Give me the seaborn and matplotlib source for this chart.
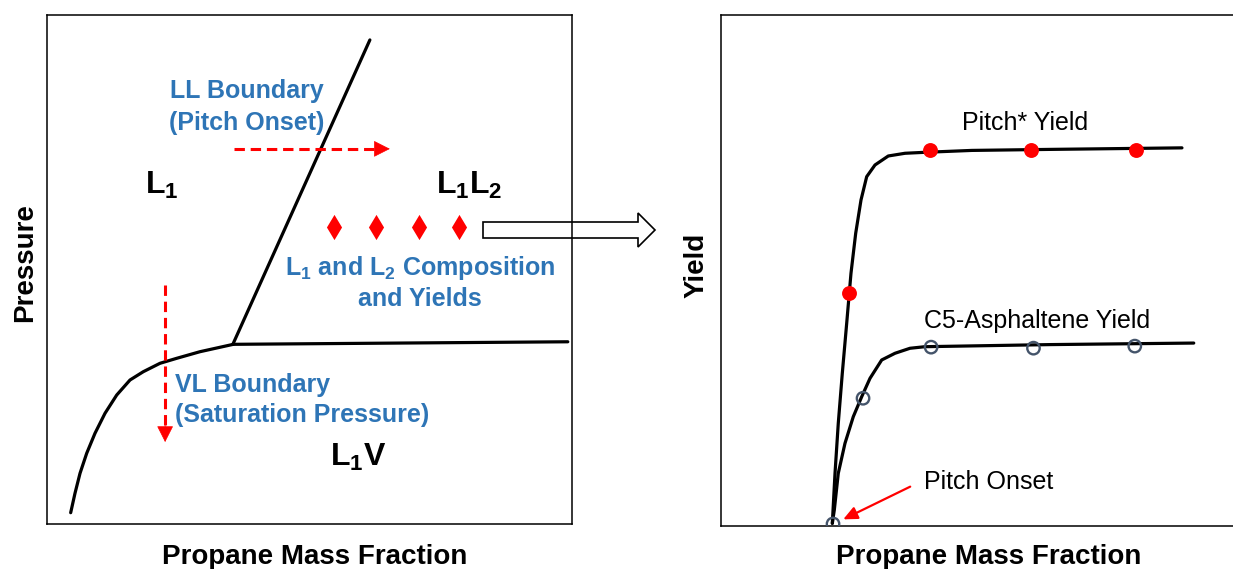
import matplotlib
matplotlib.use("Agg")
import matplotlib.pyplot as plt
from matplotlib.patches import Polygon
import seaborn as sns

# ---------------- phase diagram (left) ----------------
# coordinates in percent of the axis span
ll_x = [35.4, 61.5]
ll_y = [35.3, 95.1]
l1v_x = [35.4, 99.2]
l1v_y = [35.3, 35.8]
vl_x = [4.51, 5.33, 6.29, 7.56, 9.14, 11.05, 13.28, 15.81, 18.34, 21.52,
        24.70, 29.14, 32.95, 35.49]
vl_y = [2.22, 6.03, 9.96, 13.89, 17.82, 21.75, 25.34, 28.29, 29.92, 31.57,
        32.55, 33.85, 34.72, 35.30]
sample_x = [54.6, 62.6, 70.9, 78.5]
sample_y = [58.3, 58.3, 58.3, 58.3]
ll_path_x = [35.6, 63.5]
ll_path_y = [73.7, 73.7]
vl_path_x = [22.5, 22.5]
vl_path_y = [47.0, 18.0]

# ---------------- yield curves (right) ----------------
pitch_x = [20.77, 21.27, 21.88, 22.63, 23.45, 24.25, 25.13, 26.12, 27.18,
           28.73, 31.21, 34.33, 38.06, 46.8, 61.4, 86.0]
pitch_y = [0.53, 10.31, 20.10, 29.88, 39.67, 49.45, 57.28, 63.80, 68.36,
           70.65, 72.41, 72.94, 73.13, 73.5, 73.7, 74.0]
asph_x = [20.77, 21.14, 21.88, 23.13, 24.68, 26.25, 27.80, 29.98, 32.46,
          35.26, 38.06, 61.4, 88.2]
asph_y = [0.53, 3.13, 10.31, 16.18, 21.39, 25.30, 28.90, 32.49, 33.80,
          34.78, 35.09, 35.5, 35.8]
pitch_pts_x = [23.9, 39.0, 57.8, 77.4]
pitch_pts_y = [45.6, 73.5, 73.5, 73.5]
asph_pts_x = [20.9, 26.5, 39.2, 58.3, 77.2]
asph_pts_y = [0.4, 25.0, 35.0, 34.8, 35.2]

BLUE = "#2E75B6"
RED = "#FF0000"
GRAY = "#44546A"

sns.set_theme(style="white")
plt.rcParams["font.family"] = ["Liberation Sans", "DejaVu Sans"]
plt.rcParams["mathtext.fontset"] = "custom"
plt.rcParams["mathtext.rm"] = "Liberation Sans"
plt.rcParams["mathtext.bf"] = "Liberation Sans:bold"
plt.rcParams["mathtext.it"] = "Liberation Sans:italic"

W, H = 1233, 569
fig = plt.figure(figsize=(W / 100, H / 100), dpi=100)
ax1 = fig.add_axes([47 / W, (H - 524) / H, 525 / W, 509 / H])
ax2 = fig.add_axes([721 / W, (H - 526) / H, 536 / W, 511 / H])

for ax in (ax1, ax2):
    ax.set_xlim(0, 100)
    ax.set_ylim(0, 100)
    ax.set_xticks([])
    ax.set_yticks([])
    for sp in ax.spines.values():
        sp.set_color("black")
        sp.set_linewidth(1.1)

LW = 2.3
# phase boundaries
for xs, ys in ((ll_x, ll_y), (l1v_x, l1v_y), (vl_x, vl_y)):
    sns.lineplot(x=xs, y=ys, ax=ax1, color="black", lw=LW, sort=False,
                 estimator=None, legend=False)
    ax1.lines[-1].set_solid_joinstyle("round")

# dashed paths with arrowheads
for xs, ys in ((ll_path_x, ll_path_y), (vl_path_x, vl_path_y)):
    sns.lineplot(x=xs, y=ys, ax=ax1, color=RED, lw=2.2, sort=False,
                 estimator=None, legend=False)
    ax1.lines[-1].set_dashes([3.4, 1.9])
head = dict(arrowstyle="-|>,head_length=0.75,head_width=0.38", color=RED,
            lw=0.5, mutation_scale=14, shrinkA=0, shrinkB=0)
ax1.annotate("", xy=(65.3, 73.7), xytext=(63.0, 73.7), arrowprops=head)
ax1.annotate("", xy=(22.5, 16.1), xytext=(22.5, 19.5), arrowprops=head)

sns.scatterplot(x=sample_x, y=sample_y, ax=ax1, marker="d", s=165,
                color=RED, linewidth=0, legend=False, zorder=4)

# region labels
big = dict(fontsize=23, fontweight="bold", color="black", va="baseline")
ax1.text(18.7, 64.8, r"$\mathbf{L_1}$", ha="left", **big)
ax1.text(74.1, 64.8, r"$\mathbf{L_1L_2}$", ha="left", **big)
ax1.text(53.9, 11.4, r"$\mathbf{L_1V}$", ha="left", **big)

blue = dict(fontsize=18, fontweight="bold", color=BLUE, va="baseline")
ax1.text(38.1, 83.6, "LL Boundary", ha="center", **blue)
ax1.text(38.1, 77.5, "(Pitch Onset)", ha="center", **blue)
ax1.text(24.4, 25.9, "VL Boundary", ha="left", **blue)
ax1.text(24.4, 20.1, "(Saturation Pressure)", ha="left", **blue)
ax1.text(71.0, 48.9, r"$\mathbf{L_1}$ and $\mathbf{L_2}$ Composition",
         ha="center", **blue)
ax1.text(71.0, 42.8, "and Yields", ha="center", **blue)

# yield curves
for xs, ys in ((pitch_x, pitch_y), (asph_x, asph_y)):
    sns.lineplot(x=xs, y=ys, ax=ax2, color="black", lw=LW, sort=False,
                 estimator=None, legend=False)
    ax2.lines[-1].set_solid_joinstyle("round")
sns.scatterplot(x=pitch_pts_x, y=pitch_pts_y, ax=ax2, marker="o", s=115,
                color=RED, linewidth=0, legend=False, zorder=4)
sns.scatterplot(x=asph_pts_x, y=asph_pts_y, ax=ax2, marker="o", s=80,
                facecolor="none", edgecolor=GRAY, linewidth=1.7,
                legend=False, zorder=4)

reg = dict(fontsize=18, color="black", va="baseline")
ax2.text(56.8, 77.5, "Pitch* Yield", ha="center", **reg)
ax2.text(59.0, 38.7, "C5-Asphaltene Yield", ha="center", **reg)
ax2.text(37.9, 7.2, "Pitch Onset", ha="left", **reg)
ax2.annotate("", xy=(22.8, 1.3), xytext=(35.3, 7.7),
             arrowprops=dict(arrowstyle="-|>,head_length=0.7,head_width=0.32",
                             color=RED, lw=1.6, mutation_scale=12,
                             shrinkA=0, shrinkB=0))

# axis titles
lab = dict(fontsize=20, fontweight="bold", color="black")
fig.text(315 / W, 1 - 564 / H, "Propane Mass Fraction", ha="center",
         va="baseline", **lab)
fig.text(989 / W, 1 - 564 / H, "Propane Mass Fraction", ha="center",
         va="baseline", **lab)
fig.text(25 / W, 1 - 263 / H, "Pressure", ha="center", va="center",
         rotation=90, **lab)
fig.text(697 / W, 1 - 265 / H, "Yield", ha="center", va="center",
         rotation=90, **lab)

# hollow block arrow linking the two panels
pts = [(483, 222), (638, 222), (638, 213), (655, 230), (638, 247),
       (638, 238), (483, 238)]
fig.patches.append(Polygon([(x / W, 1 - y / H) for x, y in pts], closed=True,
                           transform=fig.transFigure, facecolor="none",
                           edgecolor="black", linewidth=1.2))

fig.savefig("out.png", dpi=100)
